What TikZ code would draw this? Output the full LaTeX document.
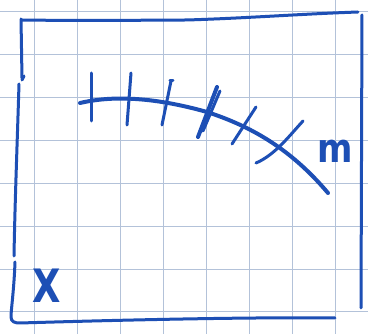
\documentclass[tikz,border=0pt]{standalone}
\usepackage{fontspec}
\newfontfamily\handfont{DejaVu Sans Bold}
\definecolor{ink}{HTML}{1D4FB5}
\definecolor{gridc}{HTML}{B3C2D9}
\begin{document}
\begin{tikzpicture}[x=1pt,y=-1pt,
  pen/.style={draw=ink,line width=3pt,line cap=round,line join=round},
  thick pen/.style={pen,line width=4pt},
  gridline/.style={draw=gridc,line width=1pt},
  letter/.style={text=ink,inner sep=0pt}]
\useasboundingbox (0,0) rectangle (368,334);
\fill[white] (0,0) rectangle (368,334);
% grid
\foreach \x in {35,77.9,120.8,163.7,206.6,249.5,292.4,335.3}
  \draw[gridline] (\x,0) -- (\x,334);
\foreach \y in {12,55,98,141,183.5,226.3,269.2,312}
  \draw[gridline] (0,\y) -- (368,\y);
% frame
\draw[pen] (22,20) .. controls (100,21) and (150,20) .. (187,20) .. controls (250,18) and (300,14) .. (358,12);
\draw[pen] (21,19) -- (22,78);
\draw[pen] (22,80) -- (24,76);
\draw[pen] (19,84) .. controls (17,150) and (15,200) .. (14,256);
\draw[pen] (15,262) .. controls (14,290) and (11,310) .. (11,317) .. controls (11,322) and (15,323) .. (20,323) .. controls (120,320) and (250,317) .. (335,318);
\draw[pen] (362,15) -- (361,308);
% curve
\draw[thick pen] (80,103) .. controls (110,96) and (150,96) .. (207,112) .. controls (250,126) and (290,148) .. (328,193);
% ticks
\draw[pen] (92,73) -- (92,121);
\draw[pen] (131,73) -- (127,125);
\draw[pen] (170,81) -- (173,81);
\draw[pen] (171,81) -- (162,125);
\draw[thick pen] (217,87) -- (198,137);
\draw[pen] (220,91) -- (203,131);
\draw[pen] (256,107) -- (232,144);
\draw[pen] (303,121) .. controls (290,135) and (275,155) .. (256,163);
% letters
\node[letter,font=\handfont\fontsize{40}{40}\selectfont,xscale=0.85] (m) at (335,151) {m};
\node[letter,font=\handfont\fontsize{46}{46}\selectfont,xscale=0.8] (x) at (47,286) {X};
\end{tikzpicture}
\end{document}
